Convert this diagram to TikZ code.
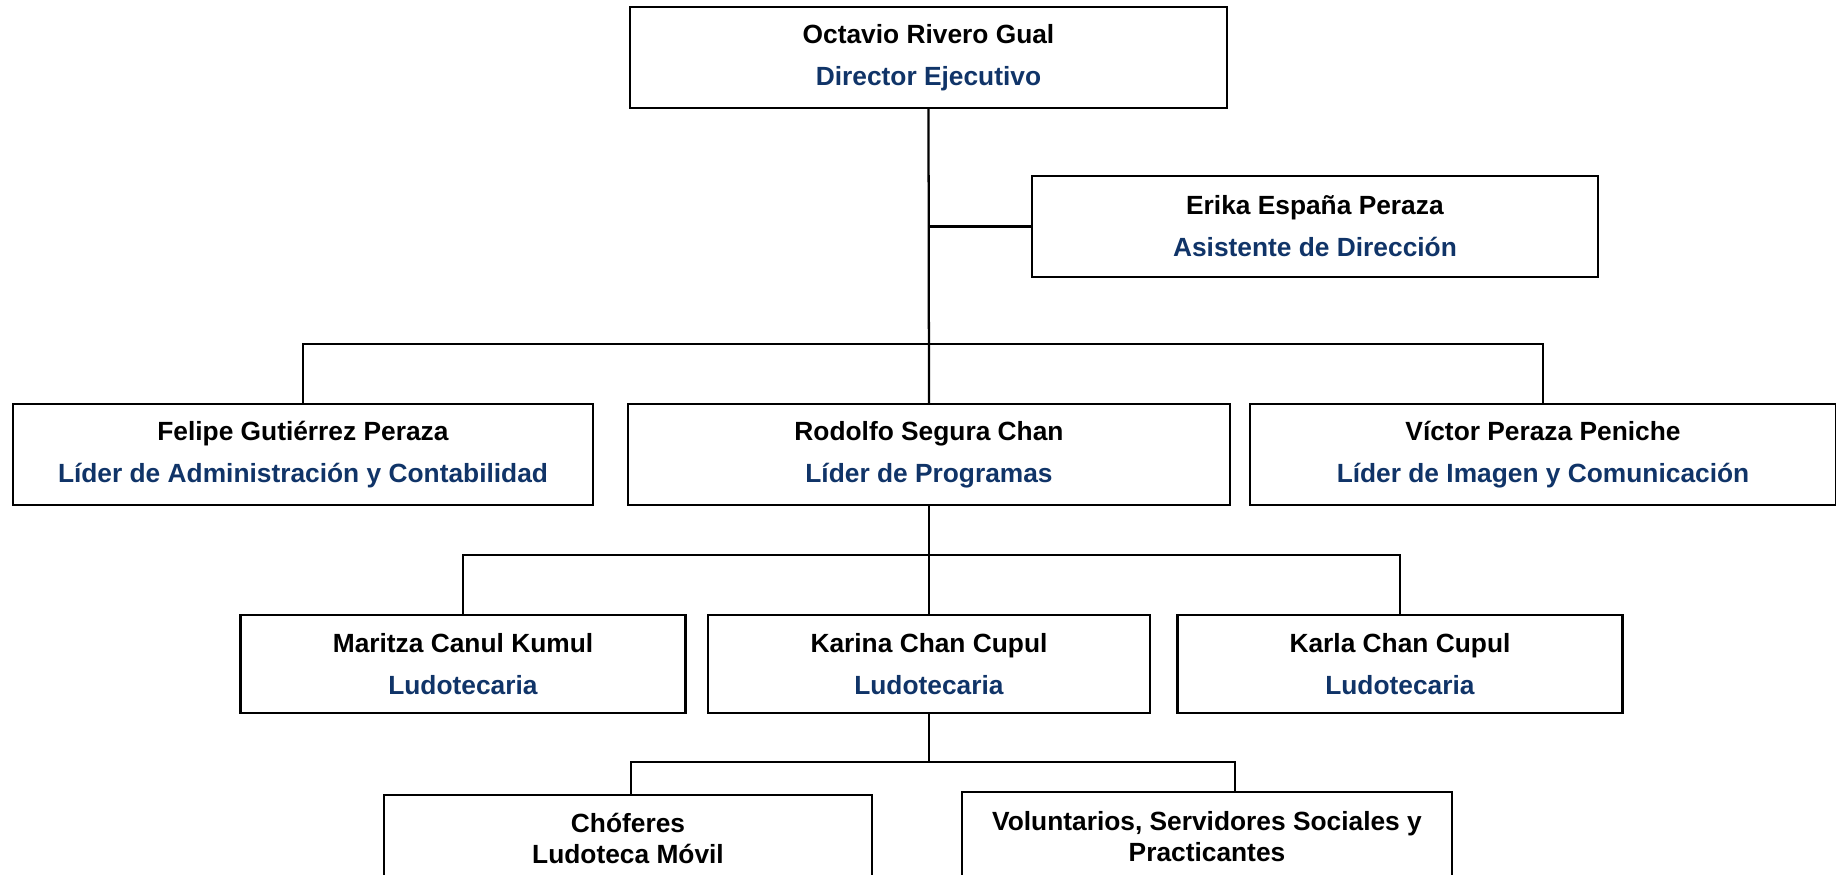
\documentclass[tikz,border=0pt]{standalone}
\usepackage{fontspec}
\setmainfont{Liberation Sans}
\usepackage{xcolor}
\usepackage{tikz}
\usetikzlibrary{positioning,calc}

\definecolor{rolblue}{RGB}{16,52,104}
\newcommand{\nm}[1]{\textbf{#1}}
\newcommand{\rl}[1]{\textcolor{rolblue}{\textbf{#1}}}

\tikzset{
  puesto/.style={draw, rectangle, line width=0.6pt, align=center, inner sep=0pt,
    font=\fontsize{6.4}{10.2}\selectfont},
  extra/.style={puesto, font=\fontsize{6.4}{7.6}\selectfont},
  caja/.style 2 args={minimum width=#1*0.0085403cm, minimum height=#2*0.0085403cm},
  liga/.style={line width=0.55pt}
}

\begin{document}
\begin{tikzpicture}[x=0.0085403cm,y=-0.0085403cm]
    \useasboundingbox (0,0) rectangle (1836,875);

    % Direccion
    \node[puesto, caja={597}{101}] (dir) at (928.5,57.5)
        {\nm{Octavio Rivero Gual}\\\rl{Director Ejecutivo}};
    \node[puesto, caja={566}{101}] (asis) at (1315,226.5)
        {\nm{Erika España Peraza}\\\rl{Asistente de Dirección}};

    % Lideres
    \node[puesto, caja={580}{101}] (fel) at (303,454.5)
        {\nm{Felipe Gutiérrez Peraza}\\\rl{Líder de Administración y Contabilidad}};
    \node[puesto, caja={602}{101}] (rod) at (929,454.5)
        {\nm{Rodolfo Segura Chan}\\\rl{Líder de Programas}};
    \node[puesto, caja={586}{101}] (vic) at (1543,454.5)
        {\nm{Víctor Peraza Peniche}\\\rl{Líder de Imagen y Comunicación}};

    % Ludotecarias
    \node[puesto, caja={445}{98}] (mar) at (463,664)
        {\nm{Maritza Canul Kumul}\\\rl{Ludotecaria}};
    \node[puesto, caja={442}{98}] (kar) at (929,664)
        {\nm{Karina Chan Cupul}\\\rl{Ludotecaria}};
    \node[puesto, caja={445}{98}] (karl) at (1400,664)
        {\nm{Karla Chan Cupul}\\\rl{Ludotecaria}};

    % Apoyo
    \node[extra, caja={488}{86}, anchor=north] (cho) at (628,794)
        {\nm{Chóferes}\\\nm{Ludoteca Móvil}};
    \node[extra, caja={490}{89}, anchor=north] (vol) at (1207,791)
        {\nm{Voluntarios, Servidores Sociales y}\\\nm{Practicantes}};

    % Lineas
    \draw[liga] (dir.south) -- (rod.north);
    \draw[liga] (asis.west) -- (asis.west -| dir.south);
    \draw[liga] (fel.north) -- ++(0,-58.5) -| (vic.north);
    \draw[liga] (rod.south) -- (kar.north);
    \draw[liga] (mar.north) -- ++(0,-59) -| (karl.north);
    \draw[liga] (kar.south) -- ++(0,48) coordinate (k4);
    \draw[liga] ([xshift=0.026cm]cho.north) |- (k4) -| ([xshift=0.239cm]vol.north);
\end{tikzpicture}
\end{document}
